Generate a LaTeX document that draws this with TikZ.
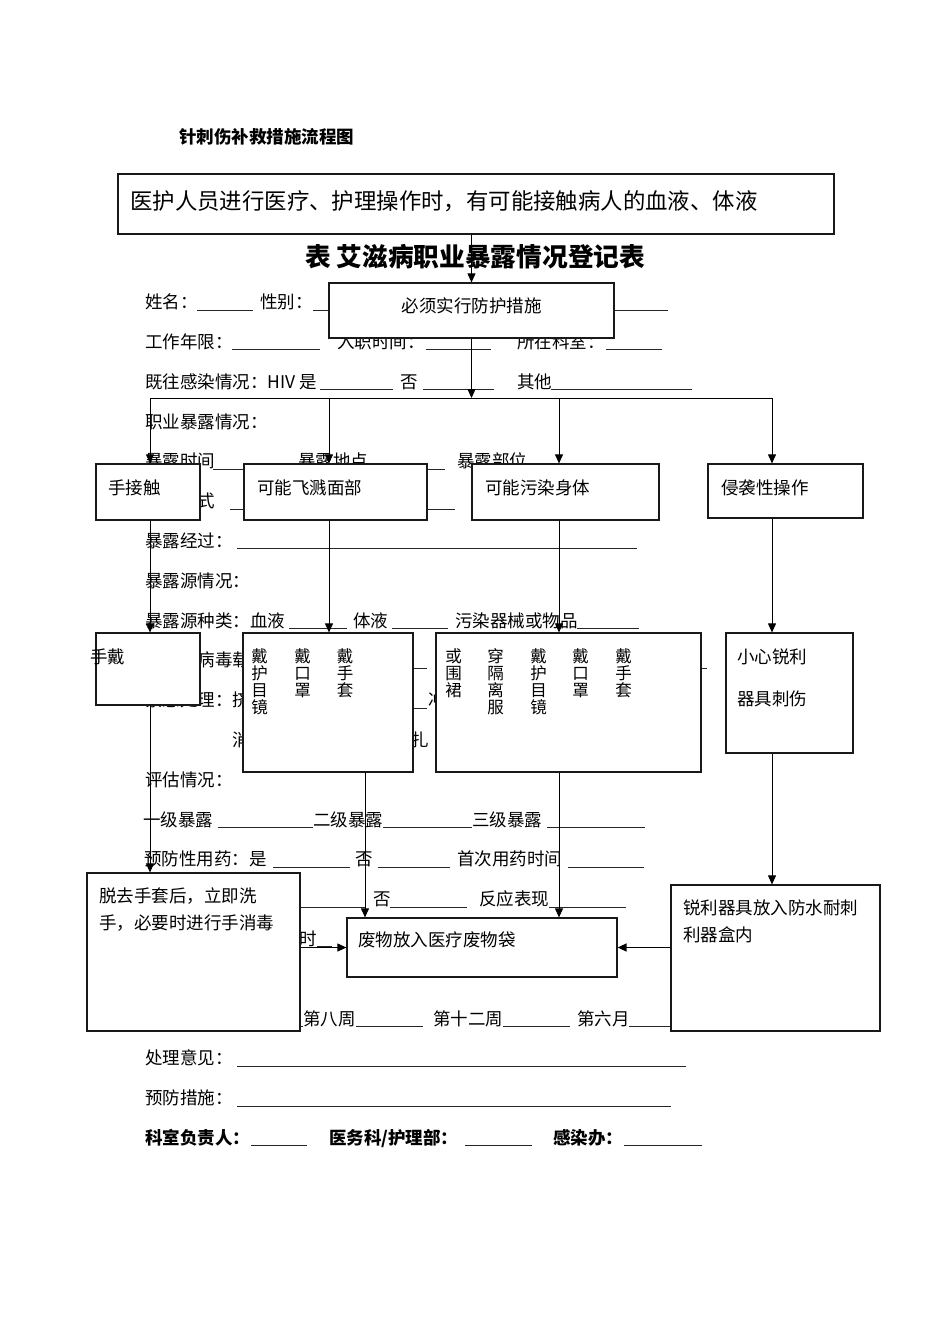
\documentclass[tikz,border=0pt]{standalone}
\usepackage{fontspec}
\setmainfont{Noto Sans CJK SC}
\usetikzlibrary{arrows.meta,fit}
\tikzset{
  ft/.style={font=\fontsize{17.5}{21}\selectfont, inner sep=0, anchor=base west, text=black},
  fbold/.style={ft, font=\fontsize{17.5}{21}\selectfont\bfseries},
  uline/.style={draw=black!85, line width=0.9pt},
  boxn/.style={draw=black!90, line width=1.2pt, fill=white, inner sep=0},
  bt/.style={font=\fontsize{17.5}{21}\selectfont, inner sep=0, anchor=base west},
  vt/.style={font=\fontsize{16.5}{16.5}\selectfont, inner sep=0, anchor=base},
  conn/.style={draw=black, line width=0.9pt},
  arr/.style={conn, -{Triangle[length=9pt,width=8pt]}},
}
\newcommand\ftx[4]{\node[ft] (#1) at (#2,{308.6+39.8*(#3-1)}) {#4};}
\newcommand\fbx[4]{\node[fbold] (#1) at (#2,{308.6+39.8*(#3-1)}) {#4};}
\newcommand\ulx[3]{\draw[uline] (#1,{310+39.8*(#3-1)}) -- (#2,{310+39.8*(#3-1)});}
\newcommand\vcol[3]{\foreach \c [count=\k] in {#3} {\node[vt] (#1-\k) at (#2,{662.8+16.8*(\k-1)}) {\c};}}
\begin{document}
\begin{tikzpicture}[x=1pt,y=-1pt]
\useasboundingbox (0,0) rectangle (950,1344);
\fill[white] (0,0) rectangle (950,1344);

% header and title
\node[font=\fontsize{17.5}{21}\selectfont\bfseries, inner sep=0, anchor=base west] (hdr) at (179,143.6) {针刺伤补救措施流程图};
\node[font=\fontsize{25.7}{30}\selectfont\bfseries, inner sep=0, anchor=base west] (ttl) at (305,266.5) {表 艾滋病职业暴露情况登记表};

% form rows
\ftx{f1a}{145}{1}{姓名：} \ulx{197}{253}{1} \ftx{f1b}{260}{1}{性别：} \ulx{313}{335}{1} \ulx{614}{668}{1}
\ftx{f2a}{145}{2}{工作年限：} \ulx{232}{320}{2} \ftx{f2b}{337}{2}{入职时间：} \ulx{426}{491}{2} \ftx{f2c}{517}{2}{所在科室：} \ulx{606}{662}{2}
\ftx{f3a}{145}{3}{既往感染情况：HIV 是} \ulx{320}{393}{3} \ftx{f3b}{400}{3}{否} \ulx{423}{494}{3} \ftx{f3c}{517}{3}{其他} \ulx{551}{692}{3}
\ftx{f4}{145}{4}{职业暴露情况：}
\ftx{f5a}{145}{5}{暴露时间} \ulx{213}{244}{5} \ftx{f5b}{298}{5}{暴露地点} \ulx{427}{445}{5} \ftx{f5c}{457}{5}{暴露部位}
\ftx{f6}{145}{6}{暴露方式} \ulx{230}{244}{6} \ulx{427}{455}{6}
\ftx{f7}{145}{7}{暴露经过：} \ulx{237}{637}{7}
\ftx{f8}{145}{8}{暴露源情况：}
\ftx{f9a}{145}{9}{暴露源种类：血液} \ulx{289}{347}{9} \ftx{f9b}{353}{9}{体液} \ulx{392}{448}{9} \ftx{f9c}{455}{9}{污染器械或物品} \ulx{577}{639}{9}
\ftx{f10}{197.5}{10}{病毒载} \ulx{413}{427}{10} \ulx{701}{707}{10}
\ftx{f11a}{145}{11}{紧急处理：挤} \ulx{413}{427}{11} \ftx{f11b}{428}{11}{冲}
\ftx{f12a}{232.5}{12}{消} \ftx{f12b}{411}{12}{扎}
\ftx{f13}{145}{13}{评估情况：}
\ftx{f14a}{143}{14}{一级暴露} \ulx{218}{313}{14} \ftx{f14b}{313}{14}{二级暴露} \ulx{383}{472}{14} \ftx{f14c}{472}{14}{三级暴露} \ulx{547}{645}{14}
\ftx{f15a}{144}{15}{预防性用药：是} \ulx{273}{350}{15} \ftx{f15b}{355}{15}{否} \ulx{378}{450}{15} \ftx{f15c}{457}{15}{首次用药时间} \ulx{568}{644}{15}
\ulx{290}{366}{16} \ftx{f16a}{373}{16}{否} \ulx{390}{467}{16} \ftx{f16b}{479}{16}{反应表现} \ulx{549}{626}{16}
\ftx{f17}{299}{17}{时} \ulx{317}{332}{17}
\ulx{295}{303}{19} \ftx{f19a}{303}{19}{第八周} \ulx{356}{423}{19} \ftx{f19b}{433}{19}{第十二周} \ulx{503}{570}{19} \ftx{f19c}{577}{19}{第六月} \ulx{629}{671}{19}
\ftx{f20}{145}{20}{处理意见：} \ulx{237}{686}{20}
\ftx{f21}{145}{21}{预防措施：} \ulx{237}{671}{21}
\fbx{f22a}{145}{22}{科室负责人：} \ulx{251}{307}{22} \fbx{f22b}{329}{22}{医务科/护理部：} \ulx{465}{532}{22} \fbx{f22c}{553}{22}{感染办：} \ulx{624}{702}{22}

% boxes
\node[boxn, fit={(118,174) (834,234)}] (top) {};
\node[boxn, fit={(329,283) (614,338)}] (must) {};
\node[boxn, fit={(96,464) (200,520)}] (hand) {};
\node[boxn, fit={(244,464) (427,520)}] (face) {};
\node[boxn, fit={(472,464) (659,520)}] (body) {};
\node[boxn, fit={(708,464) (863,518)}] (inv) {};
\node[boxn, fit={(96,633) (200,705)}] (hglove) {};
\node[boxn, fit={(243,633) (413,772)}] (fgear) {};
\node[boxn, fit={(436,633) (701,772)}] (bgear) {};
\node[boxn, fit={(726,633) (853,753)}] (care) {};
\node[boxn, fit={(87,873) (300,1031)}] (wash) {};
\node[boxn, fit={(347,918) (617,977)}] (waste) {};
\node[boxn, fit={(671,885) (880,1031)}] (sharp) {};

% box texts
\node[font=\fontsize{22.4}{26}\selectfont, inner sep=0, anchor=base west] (topT) at (130,209.5) {医护人员进行医疗、护理操作时，有可能接触病人的血液、体液};
\node[bt, anchor=base] (mustT) at (471.5,312.6) {必须实行防护措施};
\node[bt] (handT) at (108,494) {手接触};
\node[bt] (faceT) at (257,494) {可能飞溅面部};
\node[bt] (bodyT) at (485,494) {可能污染身体};
\node[bt] (invT) at (721,494) {侵袭性操作};
\node[bt] (hgloveT) at (90,663.6) {手戴};
\vcol{fa}{259.5}{戴,护,目,镜}
\vcol{fb}{302.5}{戴,口,罩}
\vcol{fc}{345}{戴,手,套}
\vcol{ba}{453.5}{或,围,裙}
\vcol{bb}{495.5}{穿,隔,离,服}
\vcol{bc}{538.5}{戴,护,目,镜}
\vcol{bd}{580.5}{戴,口,罩}
\vcol{be}{623.5}{戴,手,套}
\node[bt] (careT1) at (737,663.6) {小心锐利};
\node[bt] (careT2) at (737,705.6) {器具刺伤};
\node[bt] (washT1) at (99,902.6) {脱去手套后，立即洗};
\node[bt] (washT2) at (99,929.1) {手，必要时进行手消毒};
\node[bt] (wasteT) at (358,946.6) {废物放入医疗废物袋};
\node[bt] (sharpT1) at (683,914.1) {锐利器具放入防水耐刺};
\node[bt] (sharpT2) at (683,941.1) {利器盒内};

% connectors
\coordinate (busL) at (150,398);
\coordinate (busA) at (329,398);
\coordinate (busC) at (471.5,398);
\coordinate (busB) at (559,398);
\coordinate (busR) at (772,398);
\coordinate (fgout) at (365,772);
\draw[arr] (must.north |- top.south) -- (must.north);
\draw[arr] (must.south) -- (busC);
\draw[conn] (busL) -- (busR);
\draw[arr] (busL) -- (busL |- hand.north);
\draw[arr] (busA) -- (busA |- face.north);
\draw[arr] (busB) -- (busB |- body.north);
\draw[arr] (busR) -- (busR |- inv.north);
\draw[arr] (busL |- hand.south) -- (busL |- hglove.north);
\draw[arr] (busA |- face.south) -- (busA |- fgear.north);
\draw[arr] (busB |- body.south) -- (busB |- bgear.north);
\draw[arr] (busR |- inv.south) -- (busR |- care.north);
\draw[arr] (busL |- hglove.south) -- (busL |- wash.north);
\draw[arr] (fgout) -- (fgout |- waste.north);
\draw[arr] (busB |- bgear.south) -- (busB |- waste.north);
\draw[arr] (busR |- care.south) -- (busR |- sharp.north);
\draw[arr] (waste.west -| wash.east) -- (waste.west);
\draw[arr, line width=1.5pt] (waste.east -| sharp.west) -- (waste.east);
\end{tikzpicture}
\end{document}
